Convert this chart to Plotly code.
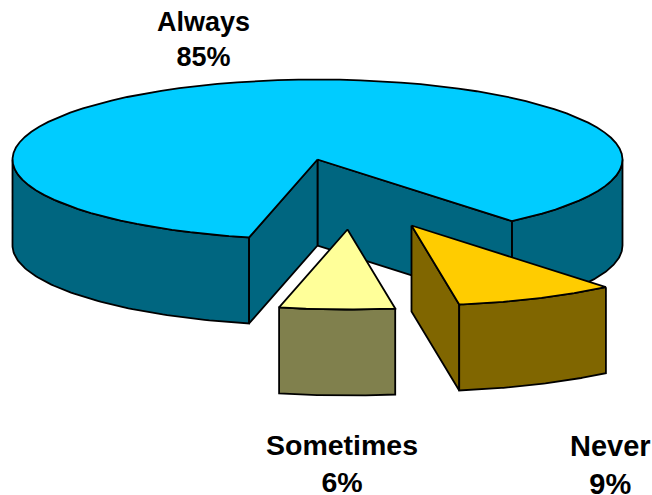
import numpy as np
import plotly.graph_objects as go

labels = ["Never", "Sometimes", "Always"]
values = [8.5, 6.1, 85.4]
percent_labels = ["9%", "6%", "85%"]
top_colors = ["#FFCC00", "#FFFF99", "#00CCFF"]
side_colors = ["#806600", "#80804D", "#006680"]
offsets = [(94, 66), (30, 70), (0, 0)]
label_pos = [(610, 465), (342, 463.5), (203, 39)]
label_sizes = [29, 28.5, 27]

CX, CY, RX, RY, DEPTH = 317.5, 159.5, 305, 80, 86
START = 39.6

fig = go.Figure()


def arc(t1, t2, ox, oy, dz=0):
    t = np.radians(np.linspace(t1, t2, 80))
    return CX + ox + RX * np.sin(t), CY + oy + dz + RY * np.cos(t)


def poly(x, y, color):
    x = np.append(x, x[0])
    y = np.append(y, y[0])
    fig.add_trace(go.Scatter(x=x, y=y, mode="lines", fill="toself", fillcolor=color,
                             line=dict(color="black", width=1.8), hoverinfo="skip",
                             showlegend=False))


def wall(t1, t2, ox, oy, color):
    x1, y1 = arc(t1, t2, ox, oy)
    x2, y2 = arc(t2, t1, ox, oy, DEPTH)
    poly(np.r_[x1, x2], np.r_[y1, y2], color)


def cut(t, ox, oy, color):
    ax, ay = CX + ox, CY + oy
    ex, ey = arc(t, t, ox, oy)
    poly(np.array([ax, ex[0], ex[0], ax]),
         np.array([ay, ey[0], ey[0] + DEPTH, ay + DEPTH]), color)


def top(t1, t2, ox, oy, color):
    x, y = arc(t1, t2, ox, oy)
    poly(np.r_[CX + ox, x], np.r_[CY + oy, y], color)


# slice angle ranges, measured from the front of the ellipse, going clockwise on screen
sweeps = [v / sum(values) * 360 for v in values]
never_a = (START, START - sweeps[0])
some_a = (never_a[1], never_a[1] - sweeps[1])
always_a = (some_a[1], some_a[1] - sweeps[2])

# Always (drawn first, it lies behind the two pulled-out slices)
c = side_colors[2]
wall(-90, some_a[1], 0, 0, c)
wall(START, 90, 0, 0, c)
cut(START, 0, 0, c)
cut(some_a[1], 0, 0, c)
top(always_a[0], always_a[1], 0, 0, top_colors[2])

# Sometimes
ox, oy = offsets[1]
wall(some_a[0], some_a[1], ox, oy, side_colors[1])
top(some_a[0], some_a[1], ox, oy, top_colors[1])

# Never
ox, oy = offsets[0]
cut(never_a[1], ox, oy, side_colors[0])
wall(never_a[0], never_a[1], ox, oy, side_colors[0])
top(never_a[0], never_a[1], ox, oy, top_colors[0])

for lab, pct, (lx, ly), fs in zip(labels, percent_labels, label_pos, label_sizes):
    fig.add_annotation(x=lx, y=ly, text=f"{lab}<br>{pct}", showarrow=False,
                       xanchor="center", yanchor="middle", align="center",
                       font=dict(family="Liberation Sans", size=fs, color="black", weight="bold"))

fig.update_layout(width=652, height=495, margin=dict(l=0, r=0, t=0, b=0),
                  paper_bgcolor="white", plot_bgcolor="white", showlegend=False,
                  xaxis=dict(range=[0, 652], visible=False, fixedrange=True),
                  yaxis=dict(range=[495, 0], visible=False, fixedrange=True))
fig.write_html("out.html", config={"displayModeBar": False},
               post_script="document.body.style.margin='0';document.body.style.overflow='hidden';")
